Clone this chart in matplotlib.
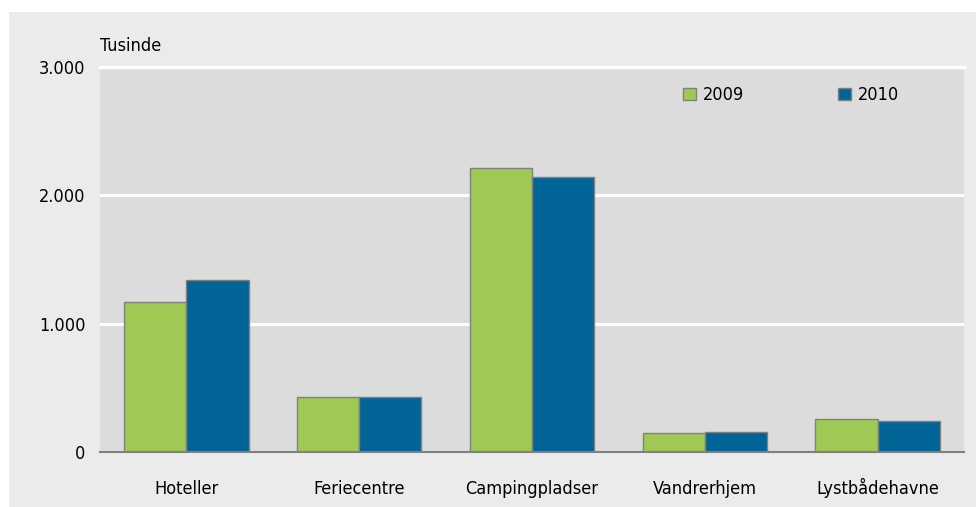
import matplotlib
matplotlib.use('Agg')
import matplotlib.pyplot as plt
from matplotlib.patches import Rectangle
import numpy as np

# Overnight stays, thousands
categories = ["Hoteller", "Feriecentre", "Campingpladser", "Vandrerhjem", "Lystbådehavne"]
values_2009 = [1170, 430, 2210, 150, 257]
values_2010 = [1340, 428, 2140, 158, 242]
yticks = [0, 1000, 2000, 3000]
ytick_labels = ["0", "1.000", "2.000", "3.000"]

GREEN = '#A0C855'
BLUE = '#006496'
EDGE = '#808080'

plt.rcParams['font.family'] = ['DejaVu Sans']
plt.rcParams['font.stretch'] = 'condensed'

fig = plt.figure(figsize=(9.76, 5.07), dpi=100)
fig.patch.set_facecolor('white')
# light grey panel behind the chart
fig.add_artist(Rectangle((9 / 976, 0), 1, 495 / 507, transform=fig.transFigure,
                         facecolor='#EBEBEB', edgecolor='none', zorder=-10))

ax = fig.add_axes([100 / 976, 55 / 507, 864 / 976, 385 / 507])
ax.set_facecolor('#DCDCDC')

x = np.arange(len(categories))
w = 0.36
ax.bar(x - w / 2, values_2009, w, color=GREEN, edgecolor=EDGE, linewidth=1, label='2009', zorder=3)
ax.bar(x + w / 2, values_2010, w, color=BLUE, edgecolor=EDGE, linewidth=1, label='2010', zorder=3)

ax.set_xlim(-0.5, len(categories) - 0.5)
ax.set_ylim(0, 3000)
ax.set_yticks(yticks)
ax.set_yticklabels(ytick_labels)
ax.set_xticks(x)
ax.set_xticklabels(categories)
ax.tick_params(axis='both', length=0, labelsize=13, colors='black')
ax.tick_params(axis='y', pad=10.5)
ax.tick_params(axis='x', pad=30)
for lbl in ax.get_xticklabels():
    lbl.set_va('baseline')

ax.yaxis.grid(True, color='white', linewidth=2.2, zorder=1)
ax.set_axisbelow(True)
for s in ['top', 'right', 'left']:
    ax.spines[s].set_visible(False)
ax.spines['bottom'].set_color(EDGE)
ax.spines['bottom'].set_linewidth(1.5)
ax.spines['bottom'].set_zorder(4)
# white line at the top value
ax.axhline(3000, color='white', linewidth=2.5, zorder=2, clip_on=False)

ax.text(0, 1.03, "Tusinde", transform=ax.transAxes, fontsize=13, va='bottom', ha='left')

leg = ax.legend(loc='upper left', bbox_to_anchor=(0.675, 0.95), ncol=2, frameon=False,
                fontsize=13, handlelength=0.7, handleheight=0.7, handletextpad=0.4,
                columnspacing=5.2, borderpad=0, borderaxespad=0)

fig.savefig('out.png', dpi=100)
